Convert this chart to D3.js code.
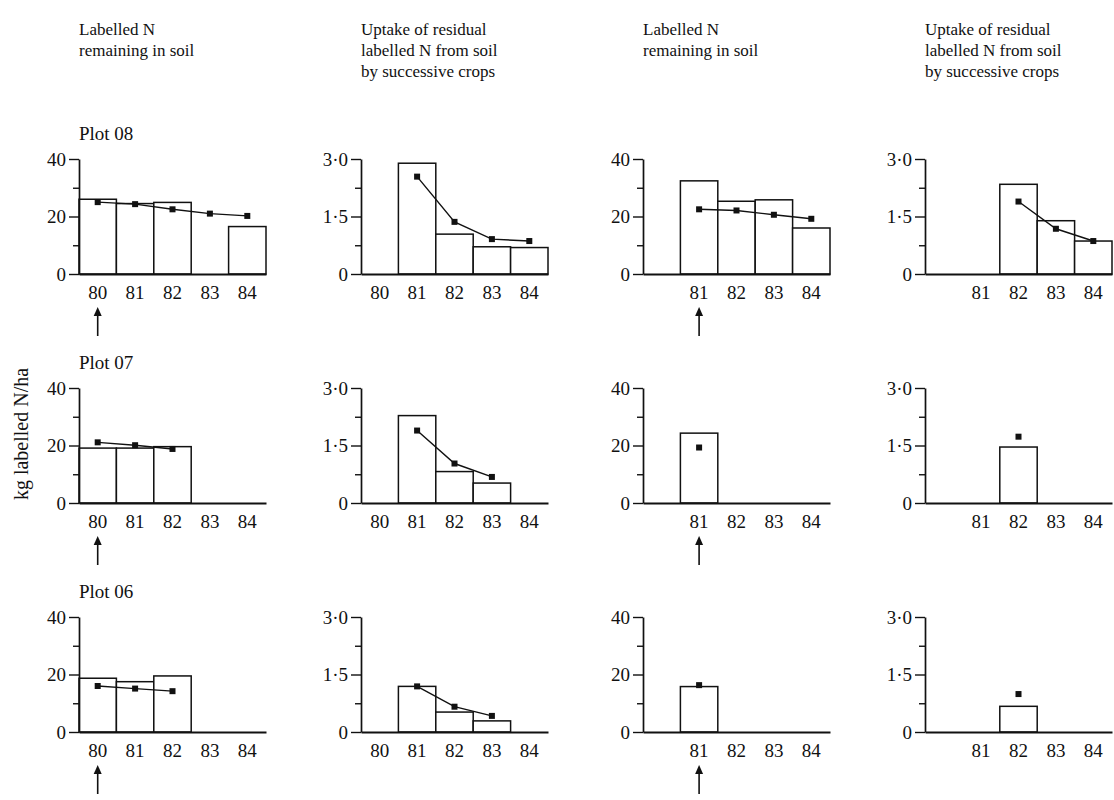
<!DOCTYPE html>
<html>
<head>
<meta charset="utf-8">
<script src="https://d3js.org/d3.v7.min.js"></script>
<style>
  body { margin: 0; background: #fff; }
  svg, svg text { font-family: "Liberation Serif", "DejaVu Serif", serif; }
  .axis text { font-size: 19px; fill: #111; }
  .axis path, .axis line { stroke: #111; }
</style>
</head>
<body>
<div id="chart"></div>
<script>
const width = 1114;
const height = 800;

// Categories
const years = ["80", "81", "82", "83", "84"];
const plotNames = ["Plot 08", "Plot 07", "Plot 06"];
const soilTitle = ["Labelled N", "remaining in soil"];
const uptakeTitle = ["Uptake of residual", "labelled N from soil", "by successive crops"];
const appliedYears = ["80", "81"];
const yLabel = "kg labelled N/ha";

// Tick values
const soilTicks = [0, 20, 40];
const soilMinor = [10, 30];
const uptakeTicks = [0, 1.5, 3.0];
const uptakeMinor = [0.75, 2.25];

// Plot 08
const p08SoilBars = [26, 24.5, 24.9, null, 16.5];
const p08SoilLine = [25, 24.3, 22.5, 21, 20.2];
const p08UptakeBars = [null, 2.89, 1.04, 0.71, 0.69];
const p08UptakeLine = [null, 2.54, 1.36, 0.91, 0.86];
const p08Soil81Bars = [null, 32.4, 25.3, 25.8, 16];
const p08Soil81Line = [null, 22.5, 22.1, 20.6, 19.2];
const p08Uptake81Bars = [null, null, 2.34, 1.39, 0.86];
const p08Uptake81Line = [null, null, 1.89, 1.18, 0.86];

// Plot 07
const p07SoilBars = [19.1, 19.1, 19.6, null, null];
const p07SoilLine = [21.1, 20.1, 18.8, null, null];
const p07UptakeBars = [null, 2.28, 0.82, 0.52, null];
const p07UptakeLine = [null, 1.89, 1.03, 0.68, null];
const p07Soil81Bars = [null, 24.3, null, null, null];
const p07Soil81Line = [null, 19.3, null, null, null];
const p07Uptake81Bars = [null, null, 1.46, null, null];
const p07Uptake81Line = [null, null, 1.73, null, null];

// Plot 06
const p06SoilBars = [18.7, 17.5, 19.5, null, null];
const p06SoilLine = [16.0, 15.1, 14.2, null, null];
const p06UptakeBars = [null, 1.19, 0.52, 0.29, null];
const p06UptakeLine = [null, 1.19, 0.66, 0.42, null];
const p06Soil81Bars = [null, 15.8, null, null, null];
const p06Soil81Line = [null, 16.3, null, null, null];
const p06Uptake81Bars = [null, null, 0.67, null, null];
const p06Uptake81Line = [null, null, 0.99, null, null];

// Layout
const left0 = 79, colStep = 282, pw = 187;
const top0 = 159, rowStep = 229, ph = 115;
const serif = "Liberation Serif, DejaVu Serif, serif";

let rows = [
  [p08SoilBars, p08SoilLine, p08UptakeBars, p08UptakeLine, p08Soil81Bars, p08Soil81Line, p08Uptake81Bars, p08Uptake81Line],
  [p07SoilBars, p07SoilLine, p07UptakeBars, p07UptakeLine, p07Soil81Bars, p07Soil81Line, p07Uptake81Bars, p07Uptake81Line],
  [p06SoilBars, p06SoilLine, p06UptakeBars, p06UptakeLine, p06Soil81Bars, p06Soil81Line, p06Uptake81Bars, p06Uptake81Line]
];

let svg = d3.select("#chart").append("svg")
  .attr("width", width)
  .attr("height", height);

// Column titles
[soilTitle, uptakeTitle, soilTitle, uptakeTitle].forEach((lines, c) => {
  let t = svg.append("text")
    .attr("x", left0 + c * colStep)
    .attr("y", 35)
    .style("font-size", "17px")
    .attr("fill", "#111");
  lines.forEach((s, i) => {
    t.append("tspan").attr("x", left0 + c * colStep).attr("dy", i ? 21 : 0).text(s);
  });
});

// y label
svg.append("text")
  .attr("transform", "translate(28,434) rotate(-90)")
  .attr("text-anchor", "middle")
  .style("font-size", "20px")
  .attr("fill", "#111")
  .text(yLabel);

let fmt = d => d === 0 ? "0" : (d >= 5 ? d3.format("d")(d) : d3.format(".1f")(d).replace(".", "\u00b7"));

rows.forEach((series, r) => {
  for (let c = 0; c < 4; c++) {
    let bars = series[c * 2], line = series[c * 2 + 1];
    let isSoil = c % 2 === 0;
    let g = svg.append("g")
      .attr("transform", "translate(" + (left0 + c * colStep) + "," + (top0 + r * rowStep) + ")");

    let x = d3.scaleBand().domain(years).range([0, pw]).padding(0);
    let y = d3.scaleLinear().domain([0, isSoil ? 40 : 3]).range([ph, 0]);

    if (c === 0) {
      g.append("text")
        .attr("x", 0)
        .attr("y", -19)
        .style("font-size", "19px")
        .attr("fill", "#111")
        .text(plotNames[r]);
    }

    // bars
    g.selectAll("rect.bar")
      .data(years.map((yr, i) => ({ yr: yr, v: bars[i] })).filter(d => d.v != null))
      .enter().append("rect")
      .attr("class", "bar")
      .attr("x", d => x(d.yr))
      .attr("y", d => y(d.v))
      .attr("width", x.bandwidth())
      .attr("height", d => y(0) - y(d.v))
      .attr("fill", "#fff")
      .attr("stroke", "#111")
      .attr("stroke-width", 1.5);

    // line with square markers
    let pts = years.map((yr, i) => ({ yr: yr, v: line[i] })).filter(d => d.v != null);
    g.append("path")
      .datum(pts)
      .attr("fill", "none")
      .attr("stroke", "#111")
      .attr("stroke-width", 1.4)
      .attr("d", d3.line().x(d => x(d.yr) + x.bandwidth() / 2).y(d => y(d.v)));
    g.selectAll("rect.pt")
      .data(pts)
      .enter().append("rect")
      .attr("class", "pt")
      .attr("x", d => x(d.yr) + x.bandwidth() / 2 - 3)
      .attr("y", d => y(d.v) - 3)
      .attr("width", 6)
      .attr("height", 6)
      .attr("fill", "#111");

    // x axis (baseline + year labels)
    let hide = c >= 2 ? "80" : null;
    g.append("g")
      .attr("class", "axis")
      .attr("transform", "translate(0," + ph + ")")
      .call(d3.axisBottom(x).tickSize(0).tickPadding(12).tickFormat(d => d === hide ? "" : d))
      .attr("font-family", serif)
      .call(a => a.select(".domain").attr("stroke-width", 2));

    // y axis: minor then major ticks
    g.append("g")
      .attr("class", "axis")
      .call(d3.axisLeft(y).tickValues(isSoil ? soilMinor : uptakeMinor).tickSize(6).tickFormat(""))
      .call(a => a.select(".domain").remove())
      .call(a => a.selectAll("line").attr("stroke-width", 1.4));
    g.append("g")
      .attr("class", "axis")
      .call(d3.axisLeft(y).tickValues(isSoil ? soilTicks : uptakeTicks).tickSize(10).tickSizeOuter(0).tickPadding(3).tickFormat(fmt))
      .attr("font-family", serif)
      .call(a => a.select(".domain").attr("stroke-width", 1.7))
      .call(a => a.selectAll("line").attr("stroke-width", 1.4));

    // arrow under the year of application
    if (isSoil) {
      let ax = x(appliedYears[c / 2]) + x.bandwidth() / 2;
      g.append("line")
        .attr("x1", ax).attr("x2", ax)
        .attr("y1", ph + 40).attr("y2", ph + 62)
        .attr("stroke", "#111")
        .attr("stroke-width", 1.6);
      g.append("path")
        .attr("d", d3.line()([[ax - 4, ph + 42], [ax, ph + 33], [ax + 4, ph + 42]]) + "Z")
        .attr("fill", "#111");
    }
  }
});
</script>
</body>
</html>
